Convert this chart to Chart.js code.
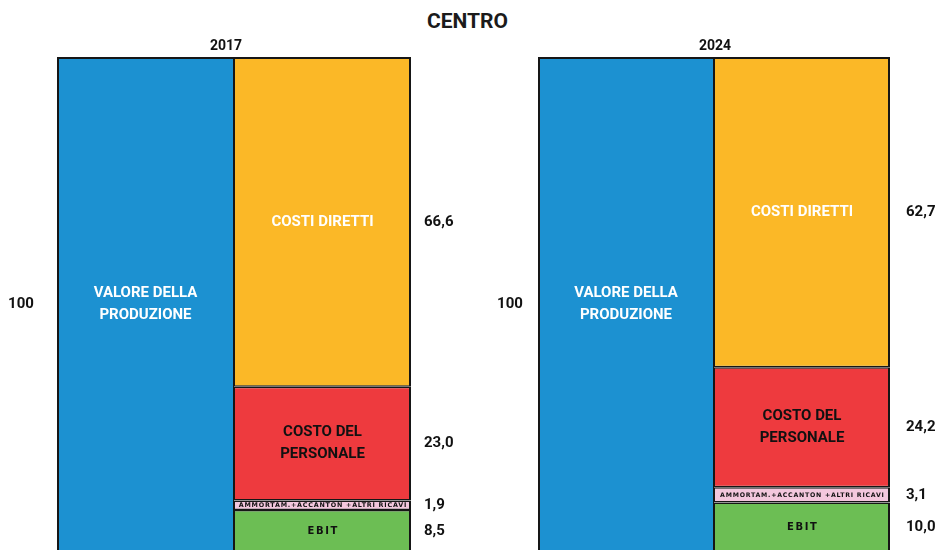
<!DOCTYPE html>
<html>
<head>
<meta charset="utf-8">
<script src="https://cdn.jsdelivr.net/npm/chart.js@4.4.1/dist/chart.umd.min.js"></script>
<style>
  html, body { margin: 0; padding: 0; background: #fff; }
  body { width: 935px; height: 550px; overflow: hidden; position: relative; }
  #title { position: absolute; left: 0; top: 9px; width: 935px; text-align: center;
           font: bold 21px Roboto, "Liberation Sans", sans-serif; line-height: 24px; color: #1b1b1b; }
  .panel { position: absolute; top: 0; height: 560px; }
</style>
</head>
<body>
<div id="title">CENTRO</div>
<div class="panel" style="left:0;width:467px"><canvas id="chart2017"></canvas></div>
<div class="panel" style="left:467px;width:468px"><canvas id="chart2024"></canvas></div>

<script>
// Conto economico in percentuale del valore della produzione, area Centro
const years = ['2017', '2024'];
const barCategories = ['Valore della produzione', 'Costi'];
const valoreProduzione = [100, 100];
const costiDiretti = [66.6, 62.7];
const costoPersonale = [23.0, 24.2];
const ammortamenti = [1.9, 3.1];
const ebit = [8.5, 10.0];

const segmentNames = {
  valore: ['VALORE DELLA', 'PRODUZIONE'],
  costi: ['COSTI DIRETTI'],
  personale: ['COSTO DEL', 'PERSONALE'],
  ammort: ['AMMORTAM.+ACCANTON', '+ALTRI RICAVI'],
  ebit: ['EBIT']
};

const colors = {
  valore: '#1c91d1',
  costi: '#fbb827',
  personale: '#ee3a3e',
  ammort: '#f3c7dd',
  ebit: '#6cbe54',
  border: '#161616'
};

const LABEL_FONT = 'Roboto, "Liberation Sans", sans-serif';
const SMALL_FONT = '"DejaVu Sans", Verdana, sans-serif';

function fmt(v, decimals) {
  return v.toFixed(decimals).replace('.', ',');
}

// Writes the segment name inside its bar, shrinking small labels to fit the segment
function drawInside(ctx, spec, cx, cy, w, h) {
  ctx.save();
  ctx.fillStyle = spec.color;
  ctx.textAlign = 'center';
  ctx.textBaseline = 'middle';
  if (spec.small) {
    let lines = spec.lines, size = 10, spacing = 1.6, gap = 13;
    const fits = (ls, s, sp, g) => {
      ctx.font = 'bold ' + s + 'px ' + SMALL_FONT;
      ctx.letterSpacing = sp + 'px';
      const maxW = Math.max(...ls.map(l => ctx.measureText(l).width));
      return maxW <= w - 8 && (ls.length - 1) * g + s <= h - 3;
    };
    let ok = fits(lines, size, spacing, gap);
    while (!ok && size > 7) {
      size -= 0.5; gap = size * 1.25; spacing = size * 0.15;
      ok = fits(lines, size, spacing, gap);
    }
    if (!ok && lines.length > 1) {
      lines = [lines.join(' ')];
      size = Math.min(10, h - 3); spacing = size * 0.12;
      while (!fits(lines, size, spacing, gap) && size > 4) { size -= 0.25; spacing = size * 0.12; }
    }
    ctx.font = 'bold ' + size + 'px ' + SMALL_FONT;
    ctx.letterSpacing = spacing + 'px';
    const start = cy - (lines.length - 1) * gap / 2;
    lines.forEach((l, i) => ctx.fillText(l, cx + spacing / 2, start + i * gap + 0.5));
  } else {
    ctx.font = 'bold 15px ' + LABEL_FONT;
    const gap = 22;
    const start = cy - (spec.lines.length - 1) * gap / 2;
    spec.lines.forEach((l, i) => ctx.fillText(l, cx, start + i * gap));
  }
  ctx.restore();
}

const segmentText = {
  id: 'segmentText',
  afterDatasetsDraw(chart, args, opts) {
    const ctx = chart.ctx;
    const area = chart.chartArea;
    chart.data.datasets.forEach((ds, di) => {
      const meta = chart.getDatasetMeta(di);
      meta.data.forEach((bar, idx) => {
        const v = ds.data[idx];
        if (v == null) return;
        const top = Math.min(bar.y, bar.base);
        const bottom = Math.max(bar.y, bar.base);
        const cy = (top + bottom) / 2;
        drawInside(ctx, ds.inner, bar.x, cy, bar.width, bottom - top);
        ctx.save();
        ctx.font = 'bold 15px ' + LABEL_FONT;
        ctx.fillStyle = '#111';
        ctx.textBaseline = 'middle';
        if (ds.valueSide === 'left') {
          ctx.textAlign = 'center';
          ctx.fillText(fmt(v, ds.decimals), area.left - opts.leftOffset, cy);
        } else {
          ctx.textAlign = 'left';
          ctx.fillText(fmt(v, ds.decimals), area.right + opts.rightOffset, cy);
        }
        ctx.restore();
      });
    });
    ctx.save();
    ctx.font = 'bold 14px ' + LABEL_FONT;
    ctx.fillStyle = '#111';
    ctx.textAlign = 'center';
    ctx.textBaseline = 'middle';
    ctx.fillText(opts.year, (area.left + area.right) / 2 + opts.yearShift, area.top - 11);
    ctx.restore();
  }
};

function buildChart(canvasId, i, pad, offsets) {
  const seg = (key, value, label, bw, textColor, small) => ({
    label: label,
    data: key === 'valore' ? [value, null] : [null, value],
    backgroundColor: colors[key],
    borderColor: colors.border,
    borderWidth: bw,
    borderSkipped: false,
    inflateAmount: 0,
    decimals: key === 'valore' ? 0 : 1,
    valueSide: key === 'valore' ? 'left' : 'right',
    inner: { lines: segmentNames[key], color: textColor, small: !!small }
  });

  // stacked from the bottom up: EBIT, ammortamenti, personale, costi diretti
  const datasets = [
    seg('valore', valoreProduzione[i], 'Valore della produzione', { top: 2, left: 2, right: 1, bottom: 0 }, '#ffffff'),
    seg('ebit', ebit[i], 'EBIT', { top: 1.5, left: 1, right: 2, bottom: 0 }, '#111111', true),
    seg('ammort', ammortamenti[i], 'Ammortamenti, accantonamenti e altri ricavi', { top: 1.5, left: 1, right: 2, bottom: 1.5 }, '#111111', true),
    seg('personale', costoPersonale[i], 'Costo del personale', { top: 1.5, left: 1, right: 2, bottom: 1.5 }, '#111111'),
    seg('costi', costiDiretti[i], 'Costi diretti', { top: 2, left: 1, right: 2, bottom: 1.5 }, '#ffffff')
  ];

  return new Chart(document.getElementById(canvasId), {
    type: 'bar',
    data: { labels: barCategories, datasets: datasets },
    options: {
      responsive: true,
      maintainAspectRatio: false,
      animation: false,
      layout: { padding: pad },
      datasets: { bar: { categoryPercentage: 1, barPercentage: 1 } },
      scales: {
        x: { stacked: true, display: false },
        y: { stacked: true, display: false, min: 0, max: 100 }
      },
      plugins: {
        legend: { display: false },
        tooltip: { enabled: false },
        segmentText: Object.assign({ year: years[i] }, offsets)
      }
    },
    plugins: [segmentText]
  });
}

buildChart('chart2017', 0, { left: 57, right: 56, top: 57, bottom: 8 },
  { leftOffset: 36, rightOffset: 13, yearShift: -8 });
buildChart('chart2024', 1, { left: 71, right: 45, top: 57, bottom: 8 },
  { leftOffset: 28, rightOffset: 16, yearShift: 1 });
</script>
</body>
</html>
